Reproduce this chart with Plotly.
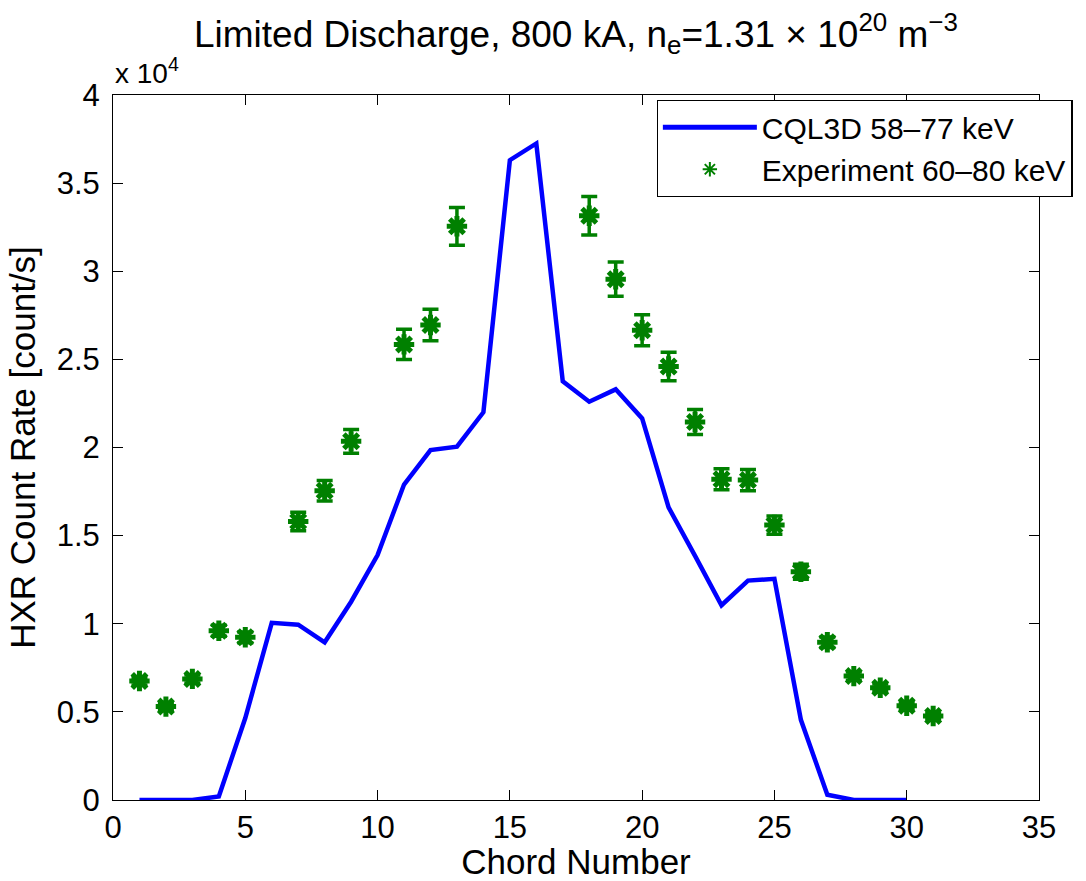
import plotly.graph_objects as go

# ---- data ----
chord_model = list(range(1, 31))
cql3d_rate = [0, 0, 0, 200, 4650, 10050, 9950, 8950, 11250, 13900,
              17900, 19850, 20050, 22000, 36300, 37250, 23750, 22600, 23300, 21650,
              16600, 13850, 11050, 12450, 12550, 4550, 300, 0, 0, 0]

chord_exp = [1, 2, 3, 4, 5, 7, 8, 9, 11, 12, 13, 18, 19, 20, 21, 22, 23, 24, 25, 26, 27, 28, 29, 30, 31]
exp_rate = [6750, 5300, 6870, 9600, 9230, 15800, 17550, 20350, 25850, 26950, 32550,
            33150, 29550, 26650, 24600, 21450, 18200, 18150, 15600, 12950, 8950,
            7030, 6370, 5350, 4770]
exp_err = [220, 175, 225, 315, 305, 520, 580, 670, 860, 890, 1070,
           1090, 975, 880, 810, 710, 600, 600, 515, 430, 295,
           230, 210, 175, 155]

x_ticks = [0, 5, 10, 15, 20, 25, 30, 35]
y_tickvals = [0, 5000, 10000, 15000, 20000, 25000, 30000, 35000, 40000]
y_ticktext = ["0", "0.5", "1", "1.5", "2", "2.5", "3", "3.5", "4"]

FONT = "Liberation Sans, Arial, sans-serif"
GREEN = "rgb(0,128,0)"

fig = go.Figure()
fig.add_trace(go.Scatter(
    x=chord_model, y=cql3d_rate, mode="lines", name="CQL3D 58\u201377 keV",
    line=dict(color="rgb(0,0,255)", width=4.5),
))
fig.add_trace(go.Scatter(
    x=chord_exp, y=exp_rate, mode="markers", name="Experiment 60\u201380 keV",
    marker=dict(symbol="asterisk-open", size=17, color=GREEN,
                line=dict(color=GREEN, width=5)),
    error_y=dict(type="data", array=exp_err, visible=True, color=GREEN,
                 thickness=3.5, width=8),
))

fig.update_layout(
    width=1086, height=881,
    margin=dict(l=113, r=47, t=95, b=81),
    paper_bgcolor="white", plot_bgcolor="white",
    font=dict(family=FONT, color="black", size=31),
    showlegend=True,
    legend=dict(x=0.587, y=0.993, xanchor="left", yanchor="top",
                bgcolor="white", bordercolor="black", borderwidth=1.3,
                font=dict(size=30), itemwidth=94, tracegroupgap=0,
                itemsizing="constant"),
    xaxis=dict(range=[0, 35], tickvals=x_ticks, ticks="inside", ticklen=10,
               showgrid=False, zeroline=False, showline=True, linecolor="black",
               linewidth=1, mirror="ticks", tickcolor="black", automargin=False,
               tickfont=dict(size=31), ticklabelstandoff=0,
               title=dict(text="Chord Number", font=dict(size=35), standoff=6)),
    yaxis=dict(range=[0, 40000], tickvals=y_tickvals, ticktext=y_ticktext,
               ticks="inside", ticklen=10, showgrid=False, zeroline=False,
               showline=True, linecolor="black", linewidth=1, mirror="ticks",
               tickcolor="black", tickfont=dict(size=31), ticklabelstandoff=6,
               automargin=False,
               title=dict(text="HXR Count Rate [count/s]", font=dict(size=35), standoff=10)),
    annotations=[
        dict(text="Limited Discharge, 800 kA, n<sub>e</sub>=1.31 \u00d7 10<sup>20</sup> m<sup>\u22123</sup>",
             xref="paper", yref="paper", x=0.5, y=1.0, xanchor="center", yanchor="bottom",
             yshift=34, showarrow=False, font=dict(size=37)),
        dict(text="x 10<sup>4</sup>", xref="paper", yref="paper", x=0.0, y=1.0,
             xanchor="left", yanchor="bottom", yshift=4, showarrow=False,
             font=dict(size=28)),
    ],
)

fig.write_html("out.html")
